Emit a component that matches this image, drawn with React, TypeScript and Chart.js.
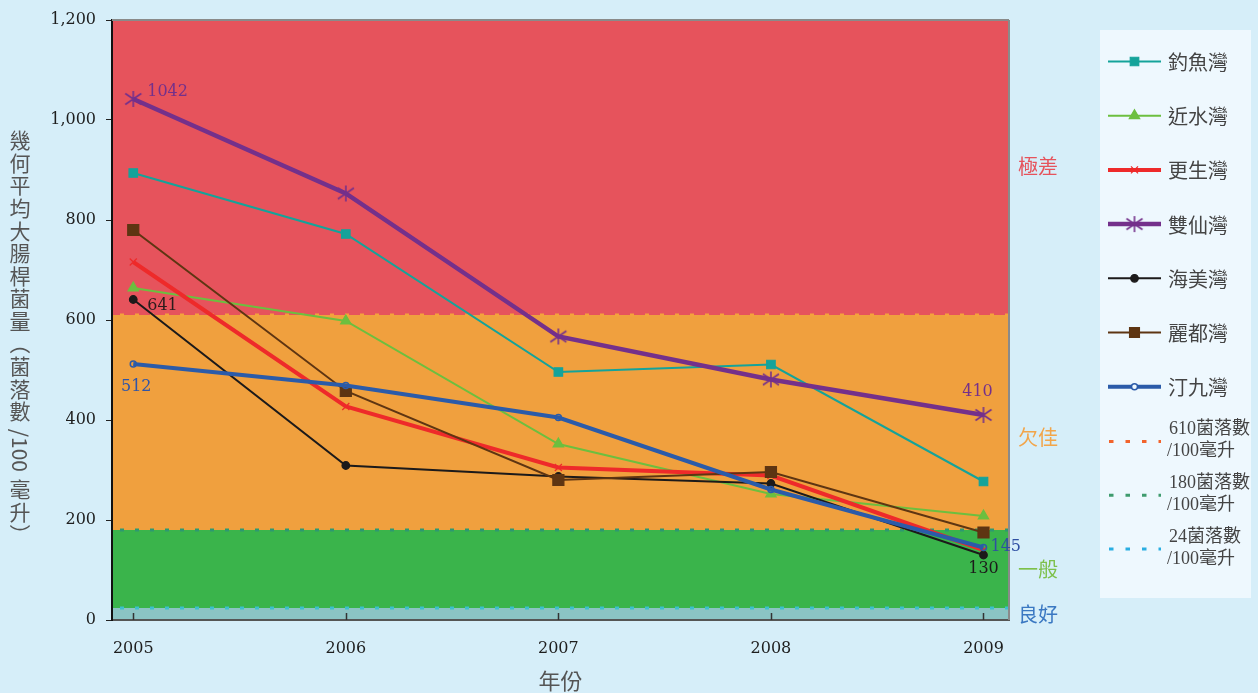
import React, { useEffect, useRef } from 'react';
import { Chart, registerables } from 'chart.js';
import { drawPoint } from 'chart.js/helpers';

Chart.register(...registerables);

// ---------- data ----------
const years = [2005, 2006, 2007, 2008, 2009];
const seriesNames = ['釣魚灣', '近水灣', '更生灣', '雙仙灣', '海美灣', '麗都灣', '汀九灣'];
const diaoyuwan = [894, 772, 496, 511, 277];
const jinshuiwan = [664, 598, 352, 252, 208];
const gengshengwan = [716, 427, 305, 289, 140];
const shuangxianwan = [1042, 853, 567, 481, 410];
const haimeiwan = [641, 309, 287, 273, 130];
const liduwan = [780, 458, 280, 296, 175];
const tingjiuwan = [512, 469, 405, 261, 145];
const seriesValues = [diaoyuwan, jinshuiwan, gengshengwan, shuangxianwan, haimeiwan, liduwan, tingjiuwan];

const yTickValues = [0, 200, 400, 600, 800, 1000, 1200];
const thresholds = [610, 180, 24];
const thresholdLabels = [
  ['610菌落數', '/100毫升'],
  ['180菌落數', '/100毫升'],
  ['24菌落數', '/100毫升'],
];
const bandNames = ['極差', '欠佳', '一般', '良好'];
const xTitle = '年份';
const yTitleTokens = ['幾', '何', '平', '均', '大', '腸', '桿', '菌', '量', '（', '菌', '落', '數', '/100', '毫', '升', '）'];

// ---------- styles ----------
const PAGE_BG = '#D6EEF9';
const CJK = "'Noto Sans CJK TC', 'Noto Sans CJK SC', sans-serif";
const NUM = "'DejaVu Serif', serif";
const LEG_NUM = "'Liberation Serif', 'Noto Sans CJK TC', serif";

const seriesStyles = [
  { color: '#14A39A', width: 2, point: 'rect', radius: 6, fill: '#14A39A' },
  { color: '#6CBF3F', width: 2, point: 'triangle', radius: 6, fill: '#6CBF3F' },
  { color: '#EE2A2A', width: 4, point: 'crossRot', radius: 5, fill: '#EE2A2A' },
  { color: '#74308B', width: 4.5, point: 'asterisk', radius: 9, fill: '#74308B' },
  { color: '#1C1A1A', width: 2, point: 'circle', radius: 3.8, fill: '#1C1A1A' },
  { color: '#5E3512', width: 2, point: 'rect', radius: 7.8, fill: '#5E3512' },
  { color: '#2B5BA9', width: 4, point: 'circle', radius: 3, fill: 'rgba(0,0,0,0)' },
];

// band colours from top (>=610) to bottom (<24)
const bandColors = ['#E6535C', '#F0A03E', '#3AB44B', '#8BC4C4'];
const bandLabelColors = ['#E6535C', '#F2A54A', '#7DC04A', '#3B78C2'];
const bandLabelValues = [908, 366, 102, 12];
const thresholdPlotColors = ['#F4A23C', '#2E9872', '#3CC0CC'];
const thresholdLegendColors = ['#F2642C', '#3F9B6E', '#2AAEE2'];

const dataLabels = [
  { s: 3, i: 0, dx: 14, dy: -7, align: 'left', color: '#74308B' },
  { s: 4, i: 0, dx: 14, dy: 6, align: 'left', color: '#2A1C1C' },
  { s: 6, i: 0, dx: 3, dy: 23, align: 'center', color: '#2F55A8' },
  { s: 3, i: 4, dx: -6, dy: -23, align: 'center', color: '#74308B' },
  { s: 6, i: 4, dx: 7, dy: -1, align: 'left', color: '#2F4FA3' },
  { s: 4, i: 4, dx: 0, dy: 14, align: 'center', color: '#1C1A1A' },
];

function makeAsterisk(color: string) {
  const c = document.createElement('canvas');
  c.width = 20;
  c.height = 20;
  const g = c.getContext('2d')!;
  g.strokeStyle = color;
  g.lineWidth = 1.6;
  g.beginPath();
  g.moveTo(10, 2);
  g.lineTo(10, 18);
  g.moveTo(2, 4.5);
  g.lineTo(18, 15.5);
  g.moveTo(2, 15.5);
  g.lineTo(18, 4.5);
  g.stroke();
  return c;
}

export default function App() {
  const ref = useRef<HTMLCanvasElement | null>(null);

  useEffect(() => {
    if (!ref.current) return;
    const asterisk = makeAsterisk('#74308B');
    const pointStyleOf = (p: string) => (p === 'asterisk' ? asterisk : p);

    const datasets = seriesNames.map((name, si) => {
      const st = seriesStyles[si];
      return {
        label: name,
        data: years.map((yr, i) => ({ x: yr, y: seriesValues[si][i] })),
        borderColor: st.color,
        borderWidth: st.width,
        backgroundColor: st.fill,
        pointStyle: pointStyleOf(st.point) as any,
        pointRadius: st.radius,
        pointHoverRadius: st.radius,
        pointBorderColor: st.color,
        pointBackgroundColor: st.fill,
        pointBorderWidth: st.point === 'circle' && si === 6 ? 1.5 : 1.2,
        tension: 0,
        order: seriesNames.length - 1 - si,
        clip: false as any,
      };
    });

    const backgroundPlugin = {
      id: 'bands',
      beforeDraw(chart: any) {
        const { ctx, chartArea: a, scales } = chart;
        const y = scales.y;
        ctx.save();
        ctx.fillStyle = PAGE_BG;
        ctx.fillRect(0, 0, chart.width, chart.height);
        const edges = [y.max, ...thresholds, y.min];
        for (let b = 0; b < bandColors.length; b++) {
          const top = y.getPixelForValue(edges[b]);
          const bot = y.getPixelForValue(edges[b + 1]);
          ctx.fillStyle = bandColors[b];
          ctx.fillRect(a.left, top, a.right - a.left, bot - top);
        }
        ctx.restore();
      },
      beforeDatasetsDraw(chart: any) {
        const { ctx, chartArea: a, scales } = chart;
        const y = scales.y;
        const x = scales.x;
        ctx.save();
        thresholds.forEach((t, k) => {
          const py = y.getPixelForValue(t);
          ctx.strokeStyle = thresholdPlotColors[k];
          ctx.lineWidth = 3;
          ctx.setLineDash([4, 11]);
          ctx.lineDashOffset = 9;
          ctx.beginPath();
          ctx.moveTo(a.left + 2, py);
          ctx.lineTo(a.right - 1, py);
          ctx.stroke();
        });
        ctx.setLineDash([]);
        ctx.strokeStyle = '#8A8A8A';
        ctx.lineWidth = 2;
        ctx.beginPath();
        ctx.moveTo(a.left, a.top);
        ctx.lineTo(a.right, a.top);
        ctx.moveTo(a.right, a.top);
        ctx.lineTo(a.right, a.bottom);
        ctx.stroke();
        ctx.strokeStyle = '#333';
        ctx.lineWidth = 1.5;
        ctx.beginPath();
        years.forEach((yr) => {
          const px = Math.round(x.getPixelForValue(yr)) + 0.5;
          ctx.moveTo(px, a.bottom);
          ctx.lineTo(px, a.bottom - 7);
        });
        ctx.stroke();
        ctx.restore();
      },
      afterDraw(chart: any) {
        const { ctx, chartArea: a, scales } = chart;
        const y = scales.y;
        const x = scales.x;
        ctx.save();
        ctx.font = `20px ${CJK}`;
        ctx.textAlign = 'center';
        ctx.textBaseline = 'middle';
        bandNames.forEach((n, k) => {
          ctx.fillStyle = bandLabelColors[k];
          ctx.fillText(n, a.right + 29, y.getPixelForValue(bandLabelValues[k]));
        });
        ctx.font = `16px ${NUM}`;
        dataLabels.forEach((d) => {
          const px = x.getPixelForValue(years[d.i]);
          const py = y.getPixelForValue(seriesValues[d.s][d.i]);
          ctx.fillStyle = d.color;
          ctx.textAlign = d.align as CanvasTextAlign;
          ctx.fillText(String(seriesValues[d.s][d.i]), px + d.dx, py + d.dy);
        });
        ctx.font = `22px ${CJK}`;
        ctx.fillStyle = '#555';
        ctx.textAlign = 'center';
        ctx.fillText(xTitle, (a.left + a.right) / 2, 681);
        // vertical y title
        const cx = 20;
        let cy = 129;
        const step = 22.6;
        ctx.font = `21px ${CJK}`;
        yTitleTokens.forEach((tk) => {
          const rotate = tk.length > 1 || tk === '（' || tk === '）';
          if (!rotate) {
            ctx.textAlign = 'center';
            ctx.fillText(tk, cx, cy + step / 2);
            cy += step;
          } else {
            const w = ctx.measureText(tk).width;
            const adv = tk.length > 1 ? w + 12 : step;
            ctx.save();
            ctx.translate(cx, cy + adv / 2);
            ctx.rotate(Math.PI / 2);
            ctx.textAlign = 'center';
            ctx.fillText(tk, 0, 0);
            ctx.restore();
            cy += adv;
          }
        });
        // legend
        const lx = 1100, ly = 30, lw = 151, lh = 568;
        ctx.fillStyle = '#EEF8FE';
        ctx.fillRect(lx, ly, lw, lh);
        seriesNames.forEach((n, si) => {
          const st = seriesStyles[si];
          const ry = 61.5 + si * 54.2;
          ctx.strokeStyle = st.color;
          ctx.lineWidth = st.width;
          ctx.beginPath();
          ctx.moveTo(1108, ry);
          ctx.lineTo(1161, ry);
          ctx.stroke();
          ctx.fillStyle = st.fill === 'rgba(0,0,0,0)' ? '#EEF8FE' : st.fill;
          ctx.strokeStyle = st.color;
          ctx.lineWidth = si === 6 ? 1.5 : 1.2;
          const ps = pointStyleOf(st.point);
          drawPoint(ctx, { pointStyle: ps as any, radius: Math.min(st.radius, 7), rotation: 0, borderWidth: ctx.lineWidth } as any, 1134.5, ry);
          ctx.fillStyle = '#444';
          ctx.font = `20px ${CJK}`;
          ctx.textAlign = 'left';
          ctx.textBaseline = 'middle';
          ctx.fillText(n, 1168, ry + 1);
        });
        thresholdLabels.forEach((lines, k) => {
          const ry = 441.5 + k * 53.7;
          ctx.strokeStyle = thresholdLegendColors[k];
          ctx.lineWidth = 3;
          ctx.setLineDash([4.5, 12]);
          ctx.lineDashOffset = 0;
          ctx.beginPath();
          ctx.moveTo(1109, ry);
          ctx.lineTo(1161, ry);
          ctx.stroke();
          ctx.setLineDash([]);
          ctx.fillStyle = '#444';
          ctx.font = `18px ${LEG_NUM}`;
          ctx.textAlign = 'left';
          ctx.fillText(lines[0], 1169, ry - 12);
          ctx.fillText(lines[1], 1167, ry + 10);
        });
        ctx.restore();
      },
    };

    const chart = new Chart(ref.current, {
      type: 'line',
      data: { datasets: datasets as any },
      options: {
        animation: false,
        responsive: false,
        events: [],
        layout: { padding: { left: 0, right: 249, top: 20, bottom: 0 } },
        plugins: { legend: { display: false }, tooltip: { enabled: false }, title: { display: false } },
        scales: {
          x: {
            type: 'linear',
            min: 2004.9,
            max: 2009.12,
            afterBuildTicks: (s: any) => {
              s.ticks = years.map((v) => ({ value: v }));
            },
            afterFit: (s: any) => {
              s.height = 73;
            },
            ticks: {
              stepSize: 1,
              includeBounds: false,
              autoSkip: false,
              maxRotation: 0,
              padding: 19,
              color: '#1E1E1E',
              font: { family: NUM, size: 16 },
              callback: (v: any) => String(v),
            },
            grid: { display: false, drawTicks: false },
            border: { display: true, color: '#555', width: 2 },
          },
          y: {
            type: 'linear',
            min: 0,
            max: 1200,
            afterBuildTicks: (s: any) => {
              s.ticks = yTickValues.map((v) => ({ value: v }));
            },
            afterFit: (s: any) => {
              s.width = 112;
            },
            ticks: {
              padding: 10,
              color: '#1E1E1E',
              font: { family: NUM, size: 16 },
              callback: (v: any) => Number(v).toLocaleString('en-US'),
            },
            grid: { display: true, drawOnChartArea: false, drawTicks: true, tickLength: 6, color: '#222', lineWidth: 1 },
            border: { display: true, color: '#111', width: 2 },
          },
        },
      },
      plugins: [backgroundPlugin],
    });
    return () => chart.destroy();
  }, []);

  return (
    <div style={{ position: 'fixed', left: 0, top: 0, width: 1258, height: 693, background: PAGE_BG }}>
      <canvas ref={ref} width={1258} height={693} style={{ display: 'block' }} />
    </div>
  );
}
